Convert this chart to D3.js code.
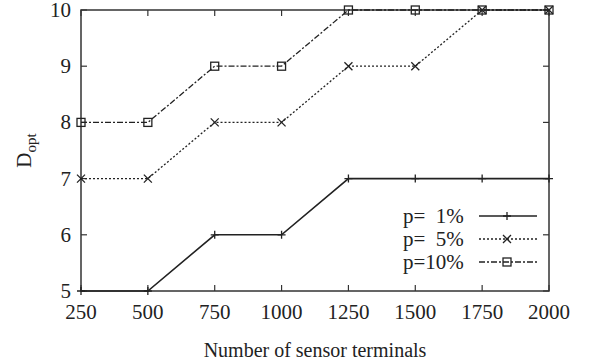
<!DOCTYPE html>
<html><head><meta charset="utf-8">
<script src="https://cdn.jsdelivr.net/npm/d3@7"></script>
<style>body{margin:0;background:#fff}svg{display:block}</style>
</head><body>
<script>
const terminals = [250, 500, 750, 1000, 1250, 1500, 1750, 2000];
const p1 = [5, 5, 6, 6, 7, 7, 7, 7];
const p5 = [7, 7, 8, 8, 9, 9, 10, 10];
const p10 = [8, 8, 9, 9, 10, 10, 10, 10];
const seriesNames = ["p=\u00a0\u00a01%", "p=\u00a0\u00a05%", "p=10%"];
const yTicks = [5, 6, 7, 8, 9, 10];

const W = 593, H = 362;
const m = {l: 81, r: 593-549, t: 10, b: 362-291};
const svg = d3.select("body").append("svg").attr("width", W).attr("height", H);
const font = "'Liberation Serif', 'Times New Roman', serif";
const x = d3.scaleLinear().domain([250, 2000]).range([m.l, W - m.r]);
const y = d3.scaleLinear().domain([5, 10]).range([H - m.b, m.t]);
const axisCol = "#333";
const ink = "#222";

const g = svg.append("g");
// ticks (mirrored, inward)
const tl = 6;
const ax = g.append("g").attr("stroke", axisCol).attr("stroke-width", 1.2);
terminals.forEach(v => {
  ax.append("line").attr("x1", x(v)).attr("x2", x(v)).attr("y1", y(5)).attr("y2", y(5) - tl);
  ax.append("line").attr("x1", x(v)).attr("x2", x(v)).attr("y1", y(10)).attr("y2", y(10) + tl);
});
yTicks.forEach(v => {
  ax.append("line").attr("x1", x(250)).attr("x2", x(250) + tl).attr("y1", y(v)).attr("y2", y(v));
  ax.append("line").attr("x1", x(2000)).attr("x2", x(2000) - tl).attr("y1", y(v)).attr("y2", y(v));
});
g.append("rect").attr("x", x(250)).attr("y", y(10)).attr("width", x(2000) - x(250)).attr("height", y(5) - y(10))
  .attr("fill", "none").attr("stroke", axisCol).attr("stroke-width", 1.5);

// tick labels
const lab = g.append("g").attr("font-family", font).attr("font-size", 21).attr("fill", "#222");
terminals.forEach(v => lab.append("text").attr("x", x(v)).attr("y", y(5) + 28).attr("text-anchor", "middle").text(v));
yTicks.forEach(v => lab.append("text").attr("x", x(250) - 10).attr("y", y(v) + 7).attr("text-anchor", "end").text(v));

// axis titles
lab.append("text").attr("x", (x(250) + x(2000)) / 2).attr("y", 357).attr("text-anchor", "middle").attr("font-size", 20).text("Number of sensor terminals");
const yt = lab.append("text").attr("transform", `translate(31,${(y(5)+y(10))/2}) rotate(-90)`).attr("text-anchor", "middle").attr("font-size", 21);
yt.append("tspan").text("D");
yt.append("tspan").attr("font-size", 15).attr("dy", 5).text("opt");

const styles = [
  {data: p1, dash: null, marker: "plus"},
  {data: p5, dash: "2,2", marker: "cross"},
  {data: p10, dash: "6,2,2,2", marker: "square"}
];
const line = d3.line().x(d => x(d[0])).y(d => y(d[1]));
function drawMarker(sel, type, cx, cy) {
  const s = 4;
  if (type === "plus") {
    sel.append("path").attr("d", `M${cx-s},${cy}H${cx+s}M${cx},${cy-s}V${cy+s}`).attr("stroke", ink).attr("stroke-width", 1.3).attr("fill", "none");
  } else if (type === "cross") {
    sel.append("path").attr("d", `M${cx-s},${cy-s}L${cx+s},${cy+s}M${cx-s},${cy+s}L${cx+s},${cy-s}`).attr("stroke", ink).attr("stroke-width", 1.3).attr("fill", "none");
  } else {
    sel.append("rect").attr("x", cx-s).attr("y", cy-s).attr("width", 2*s).attr("height", 2*s).attr("stroke", ink).attr("stroke-width", 1.3).attr("fill", "none");
  }
}
styles.forEach(st => {
  const pts = terminals.map((t, i) => [t, st.data[i]]);
  svg.append("path").attr("d", line(pts)).attr("fill", "none").attr("stroke", ink).attr("stroke-width", st.dash ? 1.3 : 1.6)
    .attr("stroke-dasharray", st.dash);
  pts.forEach(p => drawMarker(svg, st.marker, x(p[0]), y(p[1])));
});

// legend
const legY = [216, 239, 262];
styles.forEach((st, i) => {
  svg.append("text").attr("x", 403).attr("y", legY[i] + 7).attr("font-family", font).attr("font-size", 21).attr("fill", "#222").text(seriesNames[i]);
  svg.append("line").attr("x1", 479).attr("x2", 537).attr("y1", legY[i]).attr("y2", legY[i])
    .attr("stroke", ink).attr("stroke-width", st.dash ? 1.3 : 1.6).attr("stroke-dasharray", st.dash);
  drawMarker(svg, st.marker, 507, legY[i]);
});
</script>
</body></html>
